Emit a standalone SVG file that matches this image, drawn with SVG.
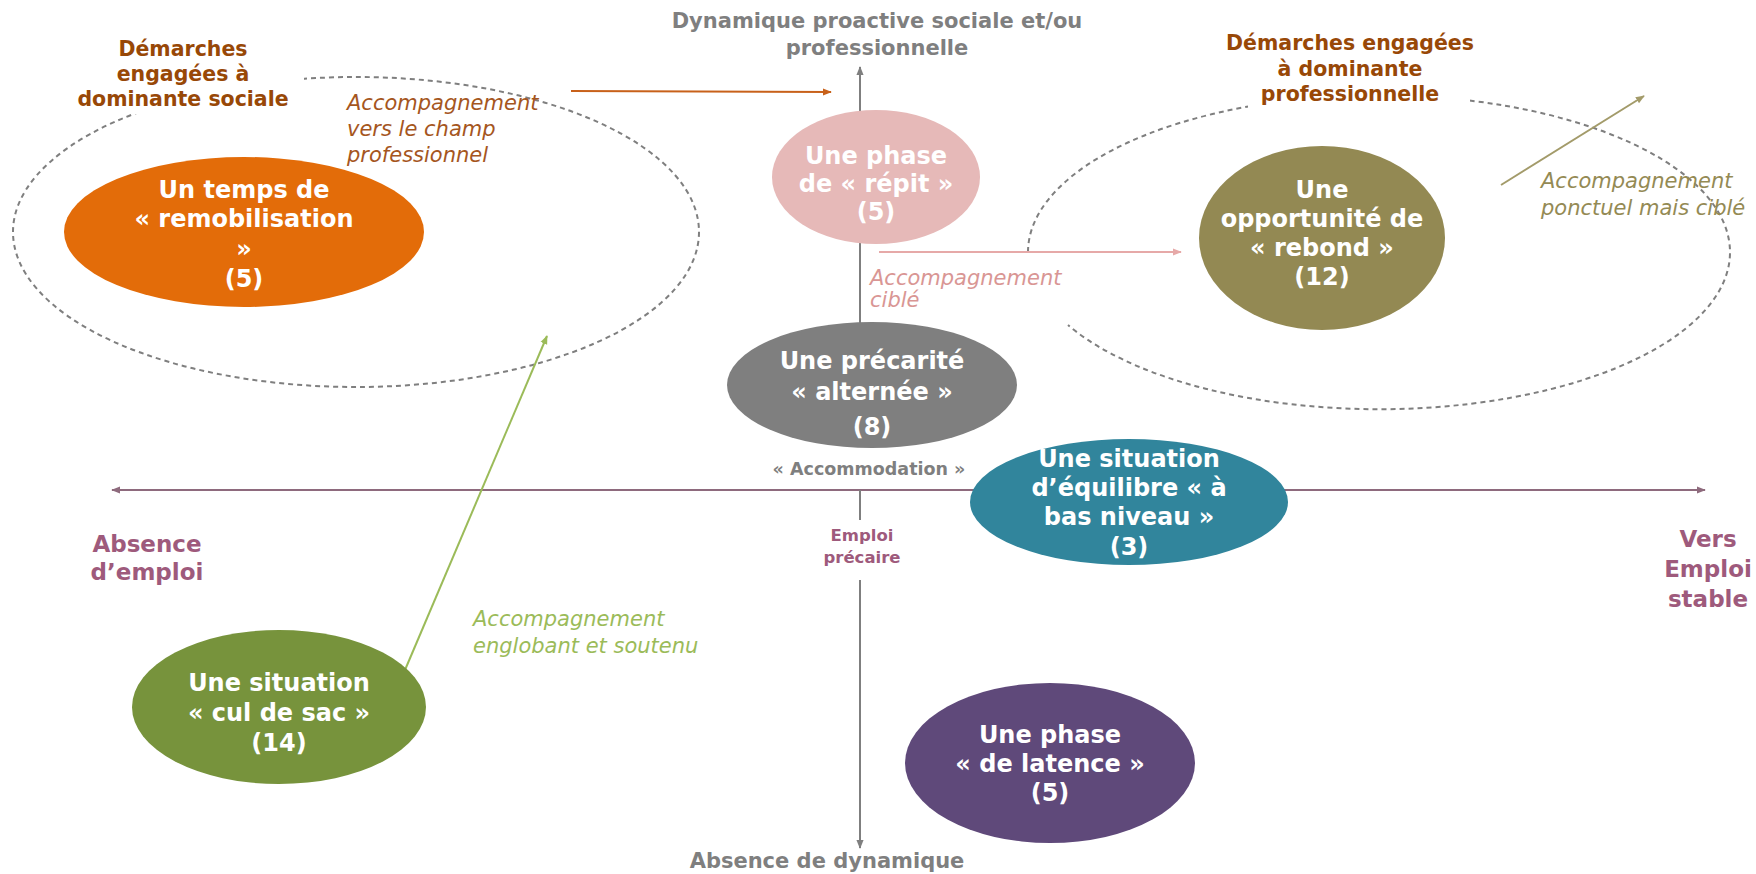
<svg xmlns="http://www.w3.org/2000/svg" width="1756" height="874" viewBox="0 0 1756 874">
<defs>
<style>
.node text{font-family:"DejaVu Sans","Liberation Sans",sans-serif;font-weight:bold;font-size:24px;fill:#fff;text-anchor:middle}
.hd{font-family:"DejaVu Sans","Liberation Sans",sans-serif;font-weight:bold;font-size:20.5px;fill:#984807;text-anchor:middle}
.ax{font-family:"DejaVu Sans","Liberation Sans",sans-serif;font-weight:bold;fill:#7F7F7F;text-anchor:middle}
.em{font-family:"DejaVu Sans","Liberation Sans",sans-serif;font-weight:bold;fill:#9E5A7C;text-anchor:middle}
.it{font-family:"DejaVu Sans","Liberation Sans",sans-serif;font-style:italic;font-size:21px}
.dash{fill:none;stroke:#7F7F7F;stroke-width:2;stroke-dasharray:5 4}
</style>
<marker id="mGray" viewBox="0 0 10 10" refX="9" refY="5" markerWidth="9" markerHeight="9" markerUnits="userSpaceOnUse" orient="auto-start-reverse"><path d="M0,1 L10,5 L0,9 z" fill="#7F7F7F"/></marker>
<marker id="mMauve" viewBox="0 0 10 10" refX="9" refY="5" markerWidth="9" markerHeight="9" markerUnits="userSpaceOnUse" orient="auto-start-reverse"><path d="M0,1 L10,5 L0,9 z" fill="#8E6A7D"/></marker>
<marker id="mOrange" viewBox="0 0 10 10" refX="9" refY="5" markerWidth="9" markerHeight="9" markerUnits="userSpaceOnUse" orient="auto"><path d="M0,1 L10,5 L0,9 z" fill="#C8611A"/></marker>
<marker id="mPink" viewBox="0 0 10 10" refX="9" refY="5" markerWidth="9" markerHeight="9" markerUnits="userSpaceOnUse" orient="auto"><path d="M0,1 L10,5 L0,9 z" fill="#E6A9A8"/></marker>
<marker id="mOlive" viewBox="0 0 10 10" refX="9" refY="5" markerWidth="9" markerHeight="9" markerUnits="userSpaceOnUse" orient="auto"><path d="M0,1 L10,5 L0,9 z" fill="#A39B6A"/></marker>
<marker id="mGreen" viewBox="0 0 10 10" refX="9" refY="5" markerWidth="9" markerHeight="9" markerUnits="userSpaceOnUse" orient="auto"><path d="M0,1 L10,5 L0,9 z" fill="#9BBB59"/></marker>
</defs>
<rect width="1756" height="874" fill="#fff"/>

<g id="zones">
<ellipse class="dash" cx="356" cy="232" rx="343" ry="155"/>
<path class="dash" d="M1028,252 A351,157 0 1 1 1068,325"/>
<rect x="66" y="28" width="238" height="86" fill="#fff"/>
<rect x="1248" y="80" width="222" height="30" fill="#fff"/>
</g>

<g id="connectors">
<line x1="112" y1="490" x2="1705" y2="490" stroke="#8E6A7D" stroke-width="2" marker-start="url(#mMauve)" marker-end="url(#mMauve)"/>
<line x1="860" y1="330" x2="860" y2="67" stroke="#7F7F7F" stroke-width="2" marker-end="url(#mGray)"/>
<line x1="860" y1="490" x2="860" y2="520" stroke="#7F7F7F" stroke-width="2"/>
<line x1="860" y1="580" x2="860" y2="848" stroke="#7F7F7F" stroke-width="2" marker-end="url(#mGray)"/>
<line x1="571" y1="91" x2="831" y2="92" stroke="#C8611A" stroke-width="2" marker-end="url(#mOrange)"/>
<line x1="879" y1="252" x2="1181" y2="252" stroke="#E6A9A8" stroke-width="2" marker-end="url(#mPink)"/>
<line x1="1501" y1="185" x2="1644" y2="96" stroke="#A39B6A" stroke-width="2" marker-end="url(#mOlive)"/>
<line x1="405" y1="670" x2="547" y2="336" stroke="#9BBB59" stroke-width="2" marker-end="url(#mGreen)"/>
</g>

<g id="labels">
<text class="ax" font-size="21" x="877" y="28">Dynamique proactive sociale et/ou</text>
<text class="ax" font-size="21" x="877" y="55">professionnelle</text>
<text class="ax" font-size="21" x="827" y="868">Absence de dynamique</text>
<text class="ax" font-size="17.5" x="869" y="475">« Accommodation »</text>
<text class="em" font-size="16.5" x="862" y="541">Emploi</text>
<text class="em" font-size="16.5" x="862" y="563">précaire</text>
<text class="em" font-size="23" x="147" y="552">Absence</text>
<text class="em" font-size="23" x="147" y="580">d’emploi</text>
<text class="em" font-size="23" x="1708" y="547">Vers</text>
<text class="em" font-size="23" x="1708" y="577">Emploi</text>
<text class="em" font-size="23" x="1708" y="607">stable</text>
<text class="hd" x="183" y="56">Démarches</text>
<text class="hd" x="183" y="81">engagées à</text>
<text class="hd" x="183" y="106">dominante sociale</text>
<text class="hd" x="1350" y="50">Démarches engagées</text>
<text class="hd" x="1350" y="76">à dominante</text>
<text class="hd" x="1350" y="101">professionnelle</text>
<text class="it" fill="#A5561E" x="347" y="110">Accompagnement</text>
<text class="it" fill="#A5561E" x="347" y="136">vers le champ</text>
<text class="it" fill="#A5561E" x="347" y="162">professionnel</text>
<text class="it" fill="#D99694" x="870" y="285">Accompagnement</text>
<text class="it" fill="#D99694" x="870" y="307">ciblé</text>
<text class="it" fill="#948A54" x="1541" y="188">Accompagnement</text>
<text class="it" fill="#948A54" x="1541" y="215">ponctuel mais ciblé</text>
<text class="it" fill="#9BBB59" x="473" y="626">Accompagnement</text>
<text class="it" fill="#9BBB59" x="473" y="653">englobant et soutenu</text>
</g>

<g id="n-remobilisation" class="node">
<ellipse cx="244" cy="232" rx="180" ry="75" fill="#E36C09"/>
<text x="244" y="198">Un temps de</text>
<text x="244" y="227">« remobilisation</text>
<text x="244" y="257">»</text>
<text x="244" y="287">(5)</text>
</g>
<g id="n-repit" class="node">
<ellipse cx="876" cy="177" rx="104" ry="67" fill="#E6B9B8"/>
<text x="876" y="164">Une phase</text>
<text x="876" y="192">de « répit »</text>
<text x="876" y="220">(5)</text>
</g>
<g id="n-rebond" class="node">
<ellipse cx="1322" cy="238" rx="123" ry="92" fill="#938953"/>
<text x="1322" y="198">Une</text>
<text x="1322" y="227">opportunité de</text>
<text x="1322" y="256">« rebond »</text>
<text x="1322" y="285">(12)</text>
</g>
<g id="n-precarite" class="node">
<ellipse cx="872" cy="385" rx="145" ry="63" fill="#7F7F7F"/>
<text x="872" y="369">Une précarité</text>
<text x="872" y="400">« alternée »</text>
<text x="872" y="435">(8)</text>
</g>
<g id="n-equilibre" class="node">
<ellipse cx="1129" cy="502" rx="159" ry="63" fill="#31859C"/>
<text x="1129" y="467">Une situation</text>
<text x="1129" y="496">d’équilibre « à</text>
<text x="1129" y="525">bas niveau »</text>
<text x="1129" y="555">(3)</text>
</g>
<g id="n-culdesac" class="node">
<ellipse cx="279" cy="707" rx="147" ry="77" fill="#77933C"/>
<text x="279" y="691">Une situation</text>
<text x="279" y="721">« cul de sac »</text>
<text x="279" y="751">(14)</text>
</g>
<g id="n-latence" class="node">
<ellipse cx="1050" cy="763" rx="145" ry="80" fill="#5F497A"/>
<text x="1050" y="743">Une phase</text>
<text x="1050" y="772">« de latence »</text>
<text x="1050" y="801">(5)</text>
</g>
</svg>
